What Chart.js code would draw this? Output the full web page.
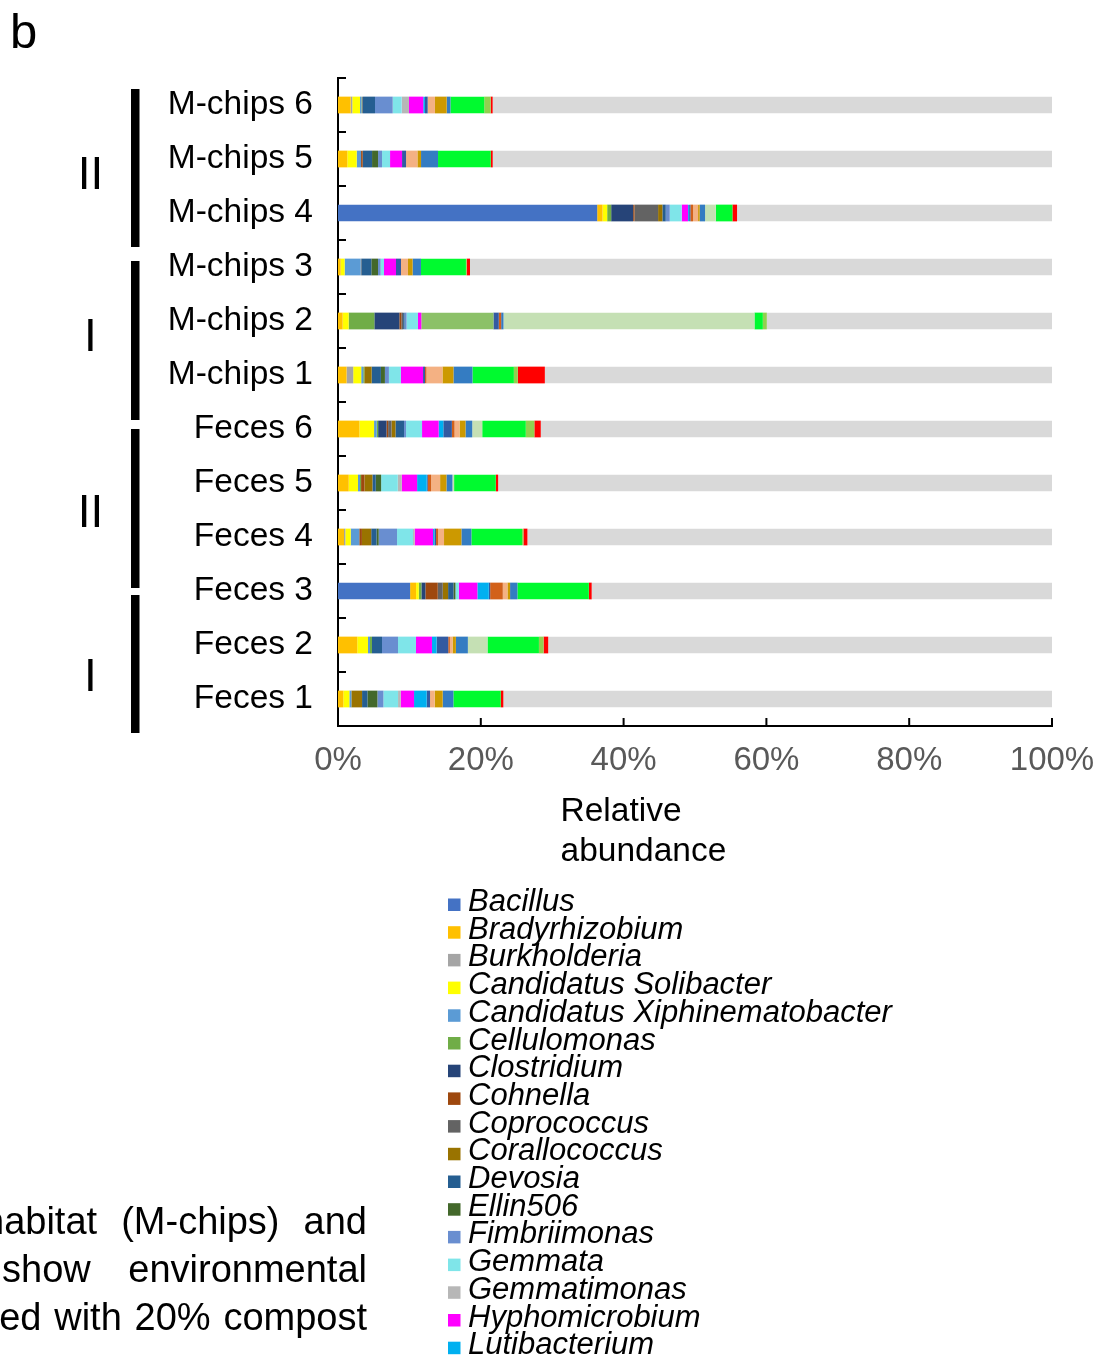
<!DOCTYPE html>
<html>
<head>
<meta charset="utf-8">
<script src="https://cdn.jsdelivr.net/npm/chart.js@4"></script>
<style>
  html, body { margin: 0; padding: 0; background: #fff; overflow: hidden; }
  canvas { display: block; }
</style>
</head>
<body>
<canvas id="chart" width="1100" height="1355"></canvas>
<script>
// Samples, top to bottom
const samples = ['M-chips 6', 'M-chips 5', 'M-chips 4', 'M-chips 3', 'M-chips 2', 'M-chips 1',
                 'Feces 6', 'Feces 5', 'Feces 4', 'Feces 3', 'Feces 2', 'Feces 1'];

// Relative abundance (%) of each genus per sample, same order as samples
const bacillus        = [0, 0, 36.3, 0, 0, 0, 0, 0, 0, 10.1, 0, 0];
const bradyrhizobium  = [1.78, 1.31, 0.75, 0.37, 0.65, 1.2, 3.0, 1.5, 0.84, 0.84, 2.7, 0.75];
const burkholderia    = [0.22, 0, 0, 0, 0, 0.93, 0, 0, 0.19, 0, 0, 0];
const solibacter      = [1.08, 1.31, 0.65, 0.56, 0.84, 1.12, 2.05, 1.3, 0.75, 0.37, 1.5, 0.84];
const xiphinemato     = [0.2, 0.61, 0, 2.24, 0, 0.28, 0.37, 0.28, 1.2, 0, 0.28, 0.28];
const cellulomonas    = [0.08, 0, 0.56, 0, 3.6, 0.15, 0.2, 0.15, 0, 0.37, 0.28, 0];
const clostridium     = [0, 0, 3.08, 0, 3.5, 0, 1.17, 0, 0, 0.56, 0, 0];
const cohnella        = [0, 0.23, 0.19, 0, 0.28, 0, 0.23, 0.47, 0.37, 1.73, 0, 0];
const coprococcus     = [0.1, 0, 3.3, 0.1, 0.25, 0, 0.47, 0, 0, 0.7, 0, 0];
const corallococcus   = [0, 0, 0.6, 0, 0, 1.03, 0.56, 1.12, 1.3, 0.75, 0, 1.5];
const devosia         = [1.72, 1.31, 0.47, 1.4, 0.2, 1.3, 1.2, 0.47, 0.75, 0.75, 1.4, 0.75];
const ellin506        = [0, 0.84, 0, 0.93, 0, 0.56, 0, 0.75, 0.3, 0.28, 0, 1.4];
const fimbriimonas    = [2.48, 0.56, 0.56, 0.37, 0.28, 0.56, 0.28, 0, 2.57, 0, 2.24, 0.84];
const gemmata         = [1.26, 1.12, 1.68, 0.47, 1.6, 1.68, 2.24, 2.33, 2.24, 0.47, 2.52, 2.05];
const gemmatimonas    = [1.02, 0, 0, 0, 0, 0, 0, 0.56, 0.23, 0, 0, 0.37];
const hyphomicrobium  = [2.0, 1.68, 0.89, 1.68, 0.47, 3.1, 2.33, 2.15, 2.57, 2.6, 2.24, 1.87];
const lutibacterium   = [0.24, 0, 0.15, 0, 0, 0, 0.65, 1.35, 0.2, 1.6, 0.65, 1.77];
const mesorhizobium   = [0, 0, 0, 0, 10.1, 0, 0, 0, 0, 0, 0, 0];
const nitrospira      = [0.38, 0.56, 0.18, 0.7, 0.75, 0.28, 1.2, 0.14, 0.22, 0.19, 1.63, 0.47];
const paenibacillus   = [0, 0, 0.37, 0, 0.33, 0.2, 0.37, 0.47, 0.28, 1.77, 0.23, 0];
const pedomicrobium   = [1.02, 1.59, 0.7, 0.98, 0, 2.24, 0.7, 1.26, 0.84, 0.65, 0.37, 0.65];
const rhodanobacter   = [1.64, 0.51, 0.23, 0.65, 0, 1.54, 0.84, 0.89, 2.43, 0.37, 0.47, 1.12];
const rhodoplanes     = [0.53, 2.38, 0.75, 1.17, 0.33, 2.66, 0.94, 0.84, 1.4, 1.03, 1.68, 1.5];
const sphingomonas    = [0, 0, 1.5, 0, 35.15, 0, 1.4, 0.23, 0, 0, 2.75, 0];
const streptomyces    = [4.73, 7.38, 2.33, 6.3, 1.17, 5.8, 6.1, 5.84, 7.1, 10.0, 7.2, 6.63];
const thermobacillus  = [0.9, 0, 0, 0.1, 0.56, 0.56, 1.2, 0, 0.19, 0, 0.65, 0];
const ureibacillus    = [0.28, 0.28, 0.65, 0.47, 0, 3.78, 0.9, 0.33, 0.56, 0.4, 0.65, 0.37];
const others          = [78.34, 78.33, 44.11, 81.51, 39.94, 71.03, 71.6, 77.57, 73.47, 64.47, 70.56, 76.84];

// Legend names and fills, in stacking order
const series = [
  ['Bacillus', bacillus, '#4472C4'],
  ['Bradyrhizobium', bradyrhizobium, '#FFC000'],
  ['Burkholderia', burkholderia, '#A5A5A5'],
  ['Candidatus Solibacter', solibacter, '#FFFF00'],
  ['Candidatus Xiphinematobacter', xiphinemato, '#5B9BD5'],
  ['Cellulomonas', cellulomonas, '#70AD47'],
  ['Clostridium', clostridium, '#264478'],
  ['Cohnella', cohnella, '#9E480E'],
  ['Coprococcus', coprococcus, '#636363'],
  ['Corallococcus', corallococcus, '#997300'],
  ['Devosia', devosia, '#255E91'],
  ['Ellin506', ellin506, '#43682B'],
  ['Fimbriimonas', fimbriimonas, '#698ED0'],
  ['Gemmata', gemmata, '#7FE5E9'],
  ['Gemmatimonas', gemmatimonas, '#B7B7B7'],
  ['Hyphomicrobium', hyphomicrobium, '#FF00FF'],
  ['Lutibacterium', lutibacterium, '#00B0F0'],
  ['Mesorhizobium', mesorhizobium, '#8CC168'],
  ['Nitrospira', nitrospira, '#335AA1'],
  ['Paenibacillus', paenibacillus, '#D2611A'],
  ['Pedomicrobium', pedomicrobium, '#F4B183'],
  ['Rhodanobacter', rhodanobacter, '#CC9900'],
  ['Rhodoplanes', rhodoplanes, '#347CC2'],
  ['Sphingomonas', sphingomonas, '#C5E0B4'],
  ['Streptomyces', streptomyces, '#00FA2F'],
  ['Thermobacillus', thermobacillus, '#92D050'],
  ['Ureibacillus', ureibacillus, '#FF0000'],
  ['Others', others, '#D9D9D9']
];

const xTicks = [0, 20, 40, 60, 80, 100];
const groups = [
  { label: 'II', top: 89, bottom: 247, baseline: 189 },
  { label: 'I', top: 261, bottom: 420, baseline: 351 },
  { label: 'II', top: 429, bottom: 588, baseline: 527 },
  { label: 'I', top: 595, bottom: 733, baseline: 691 }
];
const captionLines = [
  { words: ['habitat', '(M-chips)', 'and'], left: -17, baseline: 1234 },
  { words: ['show', 'environmental'], left: 2, baseline: 1282 },
  { words: ['amended', 'with', '20%', 'compost'], left: -117, baseline: 1330 }
];

const FONT = '"Liberation Sans", Arial, Helvetica, sans-serif';
Chart.defaults.font.family = FONT;

// Inward tick marks, group brackets, titles, legend and caption text
const decorations = {
  id: 'decorations',
  afterDraw(chart) {
    const ctx = chart.ctx;
    const xs = chart.scales.x, ys = chart.scales.y;
    const area = chart.chartArea;
    ctx.save();
    ctx.strokeStyle = '#000';
    ctx.lineWidth = 2;
    ctx.beginPath();
    for (let i = 0; i <= samples.length; i++) {
      const y = Math.round(ys.getPixelForValue(i - 0.5));
      ctx.moveTo(area.left, y);
      ctx.lineTo(area.left + 8, y);
    }
    xTicks.slice(1).forEach(v => {
      const x = xs.getPixelForValue(v);
      ctx.moveTo(x, area.bottom);
      ctx.lineTo(x, area.bottom - 8);
    });
    ctx.stroke();

    // panel letter
    ctx.fillStyle = '#000';
    ctx.textAlign = 'left';
    ctx.textBaseline = 'alphabetic';
    ctx.font = '49px ' + FONT;
    ctx.fillText('b', 10, 47.5);

    // group brackets
    groups.forEach(g => {
      ctx.fillRect(131, g.top, 8.5, g.bottom - g.top);
      ctx.font = '46px ' + FONT;
      ctx.textAlign = 'center';
      ctx.fillText(g.label, 90.5, g.baseline);
    });

    // axis title
    ctx.textAlign = 'left';
    ctx.font = '33.5px ' + FONT;
    ctx.fillText('Relative', 560.5, 821);
    ctx.fillText('abundance', 560.5, 861);

    // legend
    ctx.font = 'italic 31px ' + FONT;
    chart.data.datasets.forEach((ds, i) => {
      const base = 911 + i * 27.7;
      ctx.fillStyle = ds.backgroundColor;
      ctx.fillRect(448, base - 12.5, 12.5, 12.5);
      ctx.fillStyle = '#000';
      ctx.fillText(ds.label, 468, base);
    });

    // justified caption lines
    ctx.font = '38px ' + FONT;
    const right = 367;
    captionLines.forEach(line => {
      const widths = line.words.map(w => ctx.measureText(w).width);
      const total = widths.reduce((a, b) => a + b, 0);
      const gap = (right - line.left - total) / (line.words.length - 1);
      let x = line.left;
      line.words.forEach((w, k) => {
        ctx.fillText(w, x, line.baseline);
        x += widths[k] + gap;
      });
    });
    ctx.restore();
  }
};

new Chart(document.getElementById('chart'), {
  type: 'bar',
  data: {
    labels: samples,
    datasets: series.map(([name, values, color]) => ({
      label: name,
      data: values.map(v => (v === 0 ? null : v)),
      backgroundColor: color,
      borderWidth: 0,
      barPercentage: 0.31,
      categoryPercentage: 1.0
    }))
  },
  options: {
    responsive: false,
    animation: false,
    devicePixelRatio: 1,
    indexAxis: 'y',
    layout: { padding: { top: 78, right: 48, bottom: 555, left: 0 } },
    plugins: { legend: { display: false }, tooltip: { enabled: false } },
    scales: {
      x: {
        stacked: true,
        min: 0,
        max: 100,
        grid: { display: false, drawTicks: false },
        border: { display: true, color: '#000', width: 2 },
        ticks: {
          stepSize: 20,
          color: '#595959',
          font: { size: 33 },
          padding: 15,
          callback: v => v + '%'
        },
        afterFit: s => { s.height = 74; s.paddingLeft = 0; s.paddingRight = 0; }
      },
      y: {
        stacked: true,
        grid: { display: false, drawTicks: false },
        border: { display: true, color: '#000', width: 2 },
        ticks: { color: '#000', font: { size: 33.5 }, padding: 25, autoSkip: false },
        afterFit: s => { s.width = 338; s.paddingTop = 0; s.paddingBottom = 0; }
      }
    }
  },
  plugins: [decorations]
});
</script>
</body>
</html>
